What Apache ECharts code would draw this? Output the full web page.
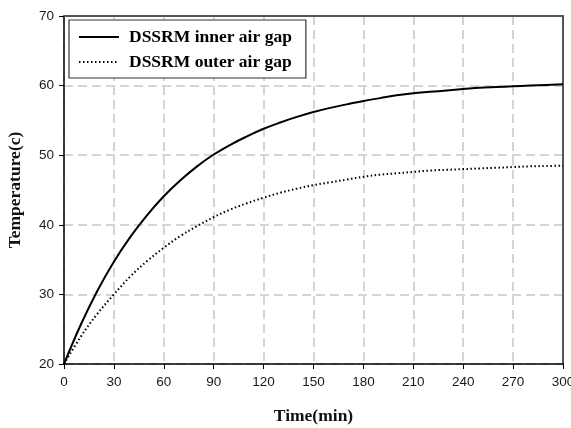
<!DOCTYPE html>
<html>
<head>
<meta charset="utf-8">
<script src="https://cdn.jsdelivr.net/npm/echarts@6/dist/echarts.min.js"></script>
<style>
  html, body { margin: 0; padding: 0; background: #fff; }
  #chart { width: 571px; height: 428px; }
</style>
</head>
<body>
<div id="chart"></div>
<script>
// Time samples (min) and temperatures (°C) for both air gaps
const timeMin = [0, 10, 20, 30, 40, 50, 60, 70, 80, 90, 100, 110, 120, 130, 140, 150, 160, 170, 180, 190, 200, 210, 220, 230, 240, 250, 260, 270, 280, 290, 300];
const innerGap = [20, 25.6, 30.5, 34.7, 38.3, 41.4, 44.1, 46.4, 48.4, 50.1, 51.5, 52.7, 53.8, 54.7, 55.5, 56.2, 56.8, 57.3, 57.8, 58.2, 58.6, 58.9, 59.1, 59.3, 59.5, 59.7, 59.8, 59.9, 60.0, 60.1, 60.2];
const outerGap = [20, 23.9, 27.2, 30.0, 32.6, 34.8, 36.7, 38.4, 39.8, 41.1, 42.2, 43.1, 43.9, 44.6, 45.2, 45.7, 46.1, 46.5, 46.9, 47.2, 47.4, 47.6, 47.8, 47.9, 48.0, 48.1, 48.2, 48.3, 48.4, 48.45, 48.5];
const seriesNames = ['DSSRM inner air gap', 'DSSRM outer air gap'];

const pairs = (ys) => timeMin.map((t, i) => [t, ys[i]]);

const gridLine = { show: true, lineStyle: { color: '#c8c8c8', type: [9, 5], width: 1.5 } };
const tickFont = { fontFamily: 'Liberation Sans, Arial, sans-serif', fontSize: 13.5, color: '#1a1a1a' };
const nameFont = { fontFamily: 'Liberation Serif, Times New Roman, serif', fontSize: 17.5, fontWeight: 'bold', color: '#111' };
const frameAxis = {
  axisLine: { show: true, onZero: false, lineStyle: { color: '#555', width: 2 } },
  axisTick: { show: false }, axisLabel: { show: false }, splitLine: { show: false }
};

const chart = echarts.init(document.getElementById('chart'), null, { renderer: 'canvas' });
chart.setOption({
  animation: false,
  backgroundColor: '#fff',
  grid: { left: 64, right: 8, top: 16, bottom: 64, containLabel: false, outerBoundsMode: 'none' },
  legend: {
    left: 69, top: 20,
    orient: 'vertical',
    data: seriesNames,
    itemWidth: 40, itemHeight: 14, itemGap: 7,
    padding: [8, 14, 7, 9],
    borderColor: '#333', borderWidth: 1.2,
    backgroundColor: '#fff',
    itemStyle: { opacity: 0 },
    textStyle: { fontFamily: 'Liberation Serif, Times New Roman, serif', fontSize: 17.5, fontWeight: 'bold', color: '#000', padding: [0, 0, 0, 5] }
  },
  xAxis: [{
    type: 'value', min: 0, max: 300, interval: 30,
    name: 'Time(min)', nameLocation: 'middle', nameGap: 43, nameTextStyle: nameFont,
    axisLine: { show: true, onZero: false, lineStyle: { color: '#000', width: 1.5 } },
    axisTick: { show: true, length: 5, lineStyle: { color: '#000' } },
    axisLabel: Object.assign({ margin: 11 }, tickFont),
    splitLine: gridLine
  }, Object.assign({ type: 'value', position: 'top', min: 0, max: 300 }, frameAxis)],
  yAxis: [{
    type: 'value', min: 20, max: 70, interval: 10,
    name: 'Temperature(c)', nameLocation: 'middle', nameGap: 40, nameTextStyle: nameFont,
    axisLine: { show: true, onZero: false, lineStyle: { color: '#000', width: 1.5 } },
    axisTick: { show: true, length: 5, lineStyle: { color: '#000' } },
    axisLabel: Object.assign({ margin: 10 }, tickFont),
    splitLine: gridLine
  }, Object.assign({ type: 'value', position: 'right', min: 20, max: 70 }, frameAxis)],
  series: [
    {
      name: seriesNames[0], type: 'line', smooth: 0.4, symbol: 'none',
      data: pairs(innerGap),
      lineStyle: { color: '#000', width: 2 }, itemStyle: { color: '#000' }
    },
    {
      name: seriesNames[1], type: 'line', smooth: 0.4, symbol: 'none',
      data: pairs(outerGap),
      lineStyle: { color: '#000', width: 2, type: [1.5, 2.5] }, itemStyle: { color: '#000' }
    }
  ]
});
</script>
</body>
</html>
